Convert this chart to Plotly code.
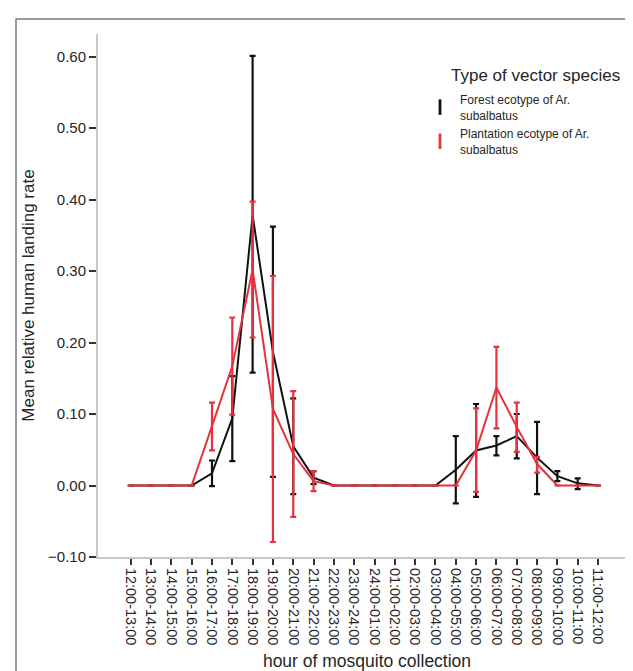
import plotly.graph_objects as go

categories = ["12:00-13:00", "13:00-14:00", "14:00-15:00", "15:00-16:00", "16:00-17:00",
              "17:00-18:00", "18:00-19:00", "19:00-20:00", "20:00-21:00", "21:00-22:00",
              "22:00-23:00", "23:00-24:00", "24:00-01:00", "01:00-02:00", "02:00-03:00",
              "03:00-04:00", "04:00-05:00", "05:00-06:00", "06:00-07:00", "07:00-08:00",
              "08:00-09:00", "09:00-10:00", "10:00-11:00", "11:00-12:00"]

forest_mean = [0, 0, 0, 0, 0.017, 0.094, 0.378, 0.187, 0.055, 0.011, 0, 0,
               0, 0, 0, 0, 0.022, 0.049, 0.056, 0.069, 0.039, 0.013, 0.003, 0]
forest_low = [0, 0, 0, 0, -0.001, 0.034, 0.158, 0.012, -0.012, 0.002, 0, 0,
              0, 0, 0, 0, -0.025, -0.016, 0.042, 0.038, -0.012, 0.006, -0.005, 0]
forest_high = [0, 0, 0, 0, 0.035, 0.153, 0.601, 0.362, 0.122, 0.020, 0, 0,
               0, 0, 0, 0, 0.069, 0.114, 0.069, 0.100, 0.089, 0.020, 0.010, 0]

plant_mean = [0, 0, 0, 0, 0.083, 0.167, 0.302, 0.107, 0.044, 0.006, 0, 0,
              0, 0, 0, 0, 0, 0.049, 0.137, 0.082, 0.030, 0, 0, 0]
plant_low = [0, 0, 0, 0, 0.049, 0.099, 0.207, -0.079, -0.044, -0.008, 0, 0,
             0, 0, 0, 0, 0, -0.009, 0.080, 0.047, 0.018, 0, 0, 0]
plant_high = [0, 0, 0, 0, 0.116, 0.235, 0.397, 0.293, 0.132, 0.020, 0, 0,
              0, 0, 0, 0, 0, 0.108, 0.194, 0.116, 0.040, 0, 0, 0]

series_names = ["Forest ecotype of Ar.<br>subalbatus", "Plantation ecotype of Ar.<br>subalbatus"]
legend_title = "Type of vector species"
y_ticks = [-0.10, 0.00, 0.10, 0.20, 0.30, 0.40, 0.50, 0.60]

BLACK = "#111111"
RED = "#e5323e"
TEXT = "#262626"
FONT = "Arial, Liberation Sans, sans-serif"

fig = go.Figure()

def add_series(mean, low, high, color):
    plus = [h - m for h, m in zip(high, mean)]
    minus = [m - l for m, l in zip(mean, low)]
    fig.add_trace(go.Scatter(
        x=categories, y=mean, mode="lines", showlegend=False,
        line=dict(color=color, width=2),
        error_y=dict(type="data", symmetric=False, array=plus, arrayminus=minus,
                     color=color, thickness=2.2, width=3),
        hoverinfo="skip"))

add_series(forest_mean, forest_low, forest_high, BLACK)
add_series(plant_mean, plant_low, plant_high, RED)

for name, color in zip(series_names, [BLACK, RED]):
    fig.add_trace(go.Scatter(
        x=[None], y=[None], mode="markers", name=name,
        marker=dict(symbol="line-ns-open", size=11, color=color,
                    line=dict(color=color, width=2.8))))

# plot area in pixels: left 90, right 628, top 26, bottom 549
L, R, T, B = 90, 628, 26, 549
W, H = 633, 671

def px_x(p):
    return (p - L) / (R - L)

def px_y(p):
    return (B - p) / (B - T)

fig.add_shape(type="rect", xref="paper", yref="paper",
              x0=px_x(8), x1=px_x(645), y0=px_y(680), y1=px_y(11),
              line=dict(color="#7a7a7a", width=1.5), fillcolor="rgba(0,0,0,0)", layer="below")

fig.add_annotation(text=legend_title, xref="paper", yref="paper",
                   x=px_x(441), y=px_y(68), xanchor="left", yanchor="middle",
                   showarrow=False, font=dict(size=17, color=TEXT, family=FONT))

fig.update_layout(
    width=W, height=H,
    margin=dict(l=L, r=W - R, t=T, b=H - B),
    paper_bgcolor="white", plot_bgcolor="white",
    font=dict(family=FONT, size=13, color=TEXT),
    showlegend=True,
    legend=dict(
        x=px_x(412), y=px_y(77), xanchor="left", yanchor="top",
        font=dict(size=12, color=TEXT),
        itemwidth=30, tracegroupgap=0, bgcolor="rgba(0,0,0,0)"),
    xaxis=dict(
        type="category", categoryorder="array", categoryarray=categories,
        range=[-1.61, 24.87], tickangle=90,
        showline=True, linecolor="#c8c8c8", linewidth=2,
        ticks="outside", ticklen=6, tickwidth=2, tickcolor="#333333",
        showgrid=False, zeroline=False,
        tickfont=dict(size=14.5, color=TEXT),
        title=dict(text="hour of mosquito collection", font=dict(size=17.5, color=TEXT), standoff=10)),
    yaxis=dict(
        range=[-0.10, 0.6315], tickvals=y_ticks, tickformat=".2f",
        showline=True, linecolor="#c8c8c8", linewidth=2,
        ticks="outside", ticklen=7, tickwidth=2, tickcolor="#333333",
        showgrid=False, zeroline=False,
        tickfont=dict(size=15, color=TEXT),
        title=dict(text="Mean relative human landing rate", font=dict(size=17, color=TEXT), standoff=9)),
)

fig.write_html("out.html")
